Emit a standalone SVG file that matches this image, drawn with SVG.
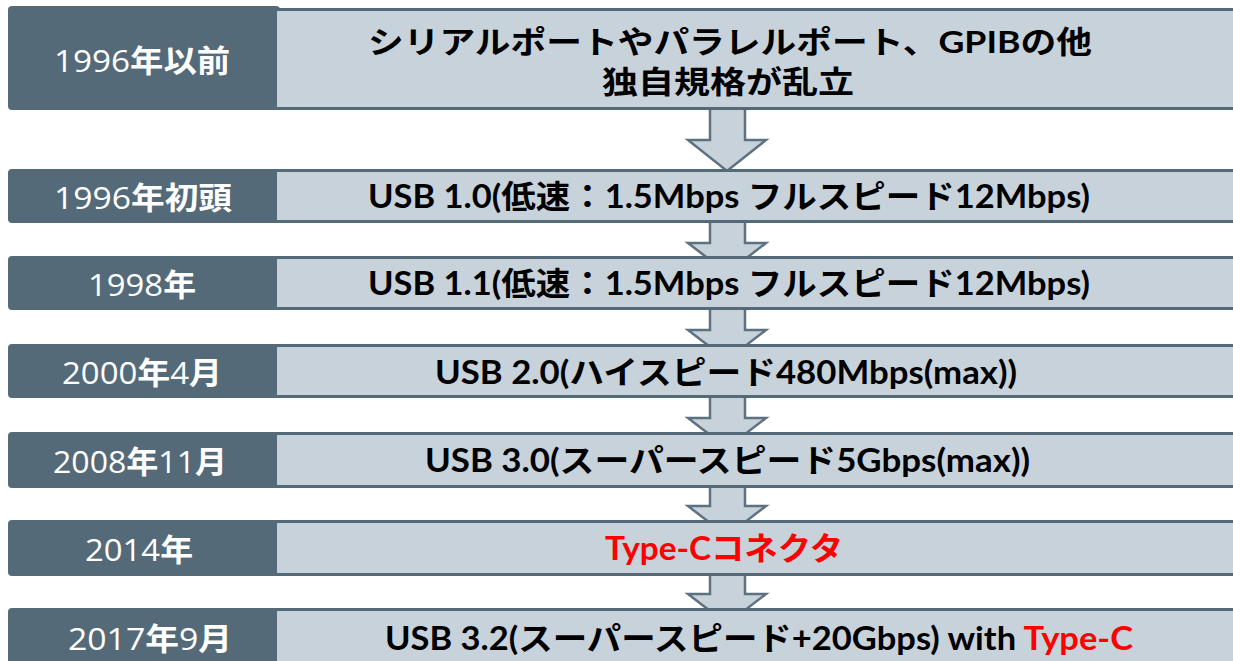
<svg xmlns="http://www.w3.org/2000/svg" width="1233" height="661" viewBox="0 0 1233 661">
<style>
.dk{fill:#546a79;}
.lt{fill:#c8d2da;}
.bd{stroke:#546a79;stroke-width:3;fill:none;}
.arr{fill:#c8d2da;stroke:#5d7281;stroke-width:2.5;stroke-linejoin:miter;}
.lbl{font-family:"Open Sans","Noto Sans CJK JP",sans-serif;font-size:31px;fill:#ffffff;text-anchor:middle;}
.lbl tspan.k{font-family:"Noto Sans CJK JP",sans-serif;font-weight:bold;}
.tx{font-family:"Lato","Noto Sans CJK JP",sans-serif;font-weight:bold;font-size:32px;fill:#000000;}
.t1{font-size:31px;}
.red{fill:#ff0000;}
</style>
<rect x="0" y="0" width="1233" height="661" fill="#ffffff"/>
<g id="connectors">
<path class="arr" d="M710,100 V140 H688 L727,171 L766,140 H745 V100 Z"/>
<path class="arr" d="M710,215 V243 H688 L727,273 L766,243 H745 V215 Z"/>
<path class="arr" d="M710,302 V330 H688 L727,360 L766,330 H745 V302 Z"/>
<path class="arr" d="M710,390 V418 H688 L727,448 L766,418 H745 V390 Z"/>
<path class="arr" d="M710,480 V506 H688 L727,536 L766,506 H745 V480 Z"/>
<path class="arr" d="M710,568 V594 H688 L727,624 L766,594 H745 V568 Z"/>
</g>
<g id="n1">
<rect class="dk" x="8" y="6" width="272" height="104" rx="4"/>
<rect class="lt" x="277" y="9" width="960" height="100"/>
<line class="bd" x1="276" y1="9.5" x2="1240" y2="9.5"/>
<line class="bd" x1="215" y1="108.5" x2="1240" y2="108.5"/>
<text class="lbl" x="142" y="72" textLength="176" lengthAdjust="spacingAndGlyphs">1996<tspan class="k">年以前</tspan></text>
<text class="tx t1" x="730" y="53" text-anchor="middle" textLength="724" lengthAdjust="spacingAndGlyphs">シリアルポートやパラレルポート、GPIBの他</text>
<text class="tx t1" x="728" y="93" text-anchor="middle" textLength="252" lengthAdjust="spacingAndGlyphs">独自規格が乱立</text>
</g>
<g id="n2">
<rect class="dk" x="8" y="169" width="272" height="54" rx="4"/>
<rect class="lt" x="277" y="170" width="960" height="52"/>
<line class="bd" x1="276" y1="170.5" x2="1240" y2="170.5"/>
<line class="bd" x1="215" y1="221.5" x2="1240" y2="221.5"/>
<text class="lbl" x="143" y="209" textLength="178" lengthAdjust="spacingAndGlyphs">1996<tspan class="k">年初頭</tspan></text>
<text class="tx" x="368" y="208" textLength="722" lengthAdjust="spacingAndGlyphs">USB 1.0(低速：1.5Mbps フルスピード12Mbps)</text>
</g>
<g id="n3">
<rect class="dk" x="8" y="256" width="272" height="54" rx="4"/>
<rect class="lt" x="277" y="257" width="960" height="52"/>
<line class="bd" x1="276" y1="257.5" x2="1240" y2="257.5"/>
<line class="bd" x1="215" y1="308.5" x2="1240" y2="308.5"/>
<text class="lbl" x="142" y="296" textLength="108" lengthAdjust="spacingAndGlyphs">1998<tspan class="k">年</tspan></text>
<text class="tx" x="368" y="295" textLength="722" lengthAdjust="spacingAndGlyphs">USB 1.1(低速：1.5Mbps フルスピード12Mbps)</text>
</g>
<g id="n4">
<rect class="dk" x="8" y="344" width="272" height="54" rx="4"/>
<rect class="lt" x="277" y="345" width="960" height="52"/>
<line class="bd" x1="276" y1="345.5" x2="1240" y2="345.5"/>
<line class="bd" x1="215" y1="396.5" x2="1240" y2="396.5"/>
<text class="lbl" x="142" y="384" textLength="160" lengthAdjust="spacingAndGlyphs">2000<tspan class="k">年</tspan>4<tspan class="k">月</tspan></text>
<text class="tx" x="435" y="384" textLength="582" lengthAdjust="spacingAndGlyphs">USB 2.0(ハイスピード480Mbps(max))</text>
</g>
<g id="n5">
<rect class="dk" x="8" y="432" width="272" height="56" rx="4"/>
<rect class="lt" x="277" y="433" width="960" height="54"/>
<line class="bd" x1="276" y1="433.5" x2="1240" y2="433.5"/>
<line class="bd" x1="215" y1="486.5" x2="1240" y2="486.5"/>
<text class="lbl" x="140" y="473" textLength="174" lengthAdjust="spacingAndGlyphs">2008<tspan class="k">年</tspan>11<tspan class="k">月</tspan></text>
<text class="tx" x="425" y="472" textLength="605" lengthAdjust="spacingAndGlyphs">USB 3.0(スーパースピード5Gbps(max))</text>
</g>
<g id="n6">
<rect class="dk" x="8" y="520" width="272" height="56" rx="4"/>
<rect class="lt" x="277" y="521" width="960" height="54"/>
<line class="bd" x1="276" y1="521.5" x2="1240" y2="521.5"/>
<line class="bd" x1="215" y1="574.5" x2="1240" y2="574.5"/>
<text class="lbl" x="139" y="561" textLength="108" lengthAdjust="spacingAndGlyphs">2014<tspan class="k">年</tspan></text>
<text class="tx red" x="605" y="560" textLength="238" lengthAdjust="spacingAndGlyphs">Type-Cコネクタ</text>
</g>
<g id="n7">
<rect class="dk" x="8" y="608" width="272" height="60" rx="4"/>
<rect class="lt" x="277" y="609" width="960" height="60"/>
<line class="bd" x1="276" y1="609.5" x2="1240" y2="609.5"/>
<text class="lbl" x="150" y="650" textLength="164" lengthAdjust="spacingAndGlyphs">2017<tspan class="k">年</tspan>9<tspan class="k">月</tspan></text>
<text class="tx" x="385" y="650" textLength="748" lengthAdjust="spacingAndGlyphs">USB 3.2(スーパースピード+20Gbps) with <tspan class="red">Type-C</tspan></text>
</g>
</svg>
